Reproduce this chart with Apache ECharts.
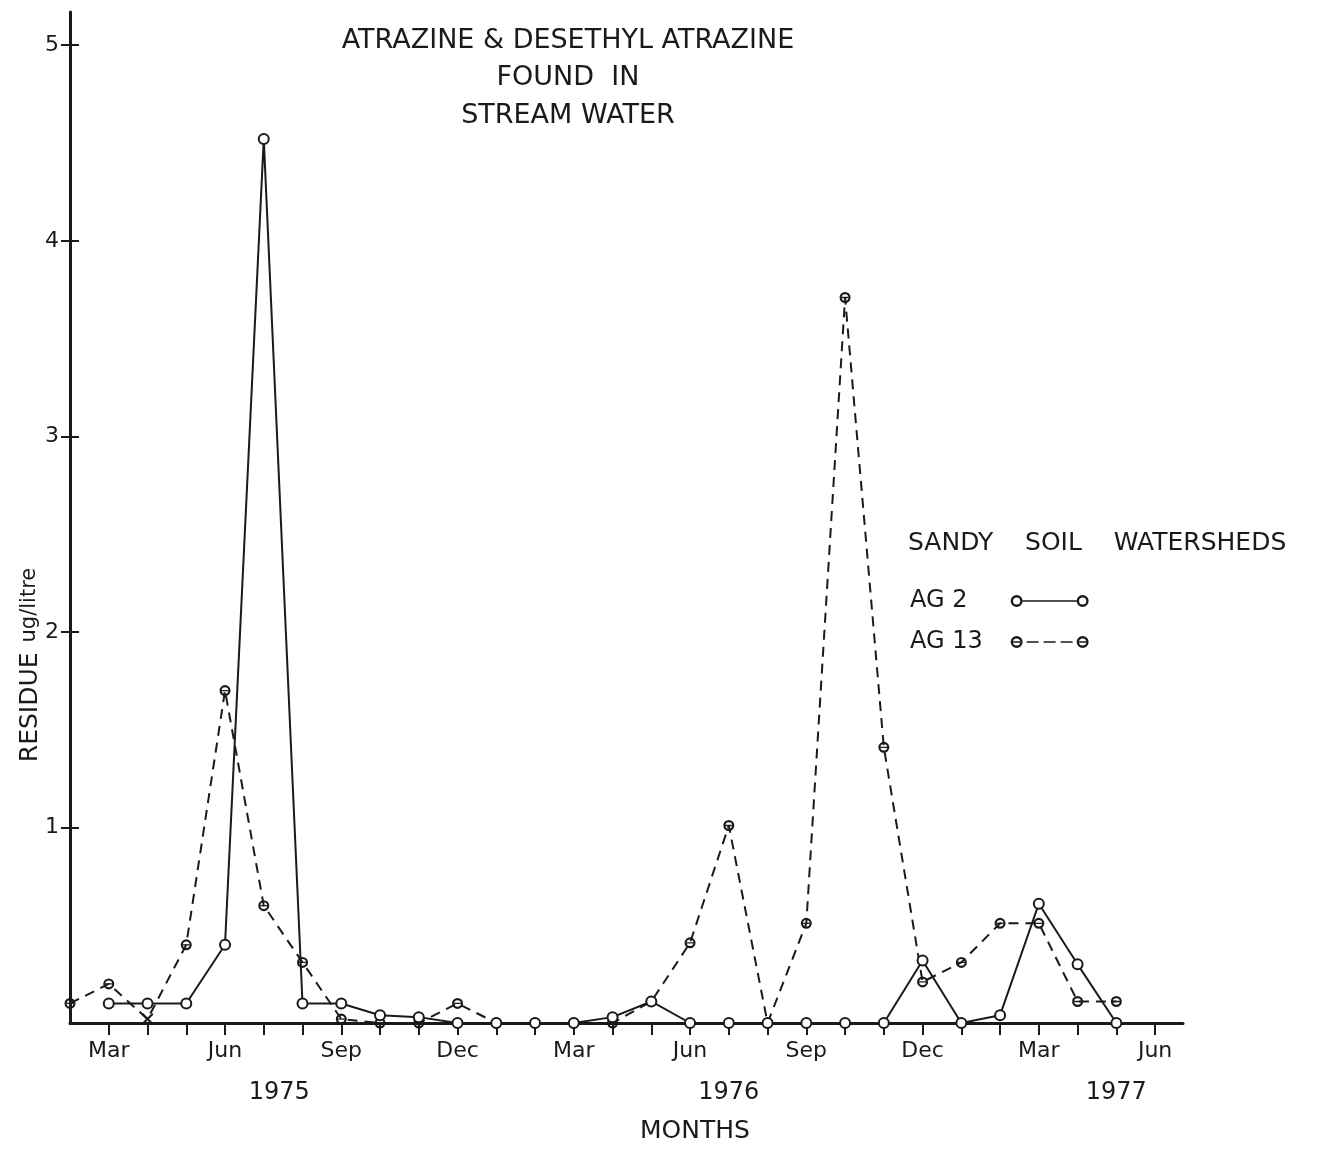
<!DOCTYPE html>
<html>
<head>
<meta charset="utf-8">
<title>Atrazine in stream water</title>
<script src="https://cdn.jsdelivr.net/npm/echarts@6/dist/echarts.min.js"></script>
<style>
html, body { margin:0; padding:0; background:#fff; }
#main { width:1331px; height:1149px; }
</style>
</head>
<body>
<div id="main"></div>
<script>
// month index 0 = Feb 1975 ... 28 = Jun 1977
var MONTHS = ['Feb','Mar','Apr','May','Jun','Jul','Aug','Sep','Oct','Nov','Dec',
	'Jan','Feb','Mar','Apr','May','Jun','Jul','Aug','Sep','Oct','Nov','Dec',
	'Jan','Feb','Mar','Apr','May','Jun'];
var LABEL_MONTHS = ['Mar','Jun','Sep','Dec'];

var YEARS = ['1975','1976','1977'];
var YEAR_POS = [5.4, 17, 27];

var Y_TICKS = [1, 2, 3, 4, 5];

// residue ug/litre, one value per month (null = no sample)
var AG2 = [null, 0.1, 0.1, 0.1, 0.4, 4.52, 0.1, 0.1, 0.04, 0.03, 0, 0, 0, 0, 0.03, 0.11,
	0, 0, 0, 0, 0, 0, 0.32, 0, 0.04, 0.61, 0.3, 0];
var AG13 = [0.1, 0.2, 0.02, 0.4, 1.7, 0.6, 0.31, 0.02, 0, 0, 0.1, 0, 0, 0, 0, 0.11,
	0.41, 1.01, 0, 0.51, 3.71, 1.41, 0.21, 0.31, 0.51, 0.51, 0.11, 0.11];
var AG13_CROSS = [2]; // this sample is drawn as an x

var FONT = 'DejaVu Sans';
var INK = '#1a1a1a';

/* little path helpers for the symbols */
var ring = function(cx, cy, R, r){
	return 'M' + (cx - R) + ',' + cy + 'A' + R + ',' + R + ',0,1,1,' + (cx + R) + ',' + cy +
		'A' + R + ',' + R + ',0,1,1,' + (cx - R) + ',' + cy + 'Z' +
		'M' + (cx - r) + ',' + cy + 'A' + r + ',' + r + ',0,1,0,' + (cx + r) + ',' + cy +
		'A' + r + ',' + r + ',0,1,0,' + (cx - r) + ',' + cy + 'Z';
}
var rect = function(x0, y0, x1, y1){
	return 'M' + x0 + ',' + y0 + 'L' + x1 + ',' + y0 + 'L' + x1 + ',' + y1 + 'L' + x0 + ',' + y1 + 'Z';
}

var barRing = function(cx){
	return ring(cx, 6, 6, 3.6) + rect(cx - 3.4, 5.3, cx + 3.4, 6.7);
}
var SYM_AG13 = 'path://' + barRing(6);
var SYM_CROSS = 'path://M0,1.5L1.5,0L6,4.5L10.5,0L12,1.5L7.5,6L12,10.5L10.5,12L6,7.5L1.5,12L0,10.5L4.5,6Z';
var ICON_AG2 = 'path://' + ring(6, 6, 6, 3.6) + rect(12, 5.2, 66, 6.8) + ring(72, 6, 6, 3.6);
var ICON_AG13 = 'path://' + barRing(6) + rect(16, 5.2, 28, 6.8) + rect(33, 5.2, 45, 6.8) +
	rect(50, 5.2, 62, 6.8) + barRing(72);

// ticks & labels
var tickIdx = [];
var labelIdx = [];
for(var i = 1; i < MONTHS.length; i++){
	tickIdx.push(i);
	if(LABEL_MONTHS.indexOf(MONTHS[i]) >= 0) labelIdx.push(i);
}

var ag2Data = [];
var ag13Data = [];
for(var i = 0; i < AG2.length; i++){
	if(AG2[i] != null) ag2Data.push([i, AG2[i]]);
}
for(var i = 0; i < AG13.length; i++){
	if(AG13_CROSS.indexOf(i) >= 0){
		ag13Data.push({value: [i, AG13[i]], symbol: SYM_CROSS, symbolSize: 12});
	}else{
		ag13Data.push([i, AG13[i]]);
	}
}

var X_MAX = 28.72;
var Y_MAX = 5.17;

var option = {
	animation: false,
	backgroundColor: '#fff',
	textStyle: {fontFamily: FONT, color: INK},
	title: [
		{text: 'SANDY    SOIL    WATERSHEDS', left: 908, top: 531, padding: 0,
			textStyle: {fontFamily: FONT, fontSize: 25, fontWeight: 'normal', color: INK}},
		{text: 'MONTHS', left: 640, top: 1119, padding: 0,
			textStyle: {fontFamily: FONT, fontSize: 25, fontWeight: 'normal', color: INK}}
	],
	graphic: [
		{type: 'text', x: 568, y: 22, z: 10,
			style: {text: 'ATRAZINE & DESETHYL ATRAZINE\nFOUND  IN\nSTREAM WATER',
				font: '27px "DejaVu Sans"', fill: INK, align: 'center', verticalAlign: 'top', lineHeight: 37.5}},
		{type: 'text', x: 30, y: 665, rotation: Math.PI / 2, z: 10,
			style: {text: '{a|RESIDUE}   {b|ug/litre}', align: 'center', verticalAlign: 'middle',
				rich: {
					a: {font: '25px "DejaVu Sans"', fill: INK},
					b: {font: '21px "DejaVu Sans"', fill: INK}
				}}}
	],
	legend: {
		orient: 'vertical', left: 910, top: 589, align: 'right', padding: 0,
		itemWidth: 78, itemHeight: 12, itemGap: 17,
		itemStyle: {borderWidth: 0},
		textStyle: {fontFamily: FONT, fontSize: 24, color: INK},
		formatter: function(name){
			// spaces keep both icons lined up (two spaces = one digit)
			return name == 'AG 2' ? 'AG 2     ' : name + '   ';
		},
		data: [{name: 'AG 2', icon: ICON_AG2}, {name: 'AG 13', icon: ICON_AG13}]
	},
	grid: {left: 70, right: 148, top: 12, bottom: 126},
	xAxis: [
		{type: 'value', min: 0, max: X_MAX, position: 'bottom',
			axisLine: {show: true, onZero: false, lineStyle: {color: INK, width: 3}},
			axisTick: {show: true, length: 12, customValues: tickIdx, lineStyle: {color: INK, width: 2}},
			axisLabel: {show: true, customValues: labelIdx, margin: 17,
				formatter: function(v){ return MONTHS[v]; },
				fontFamily: FONT, fontSize: 22, color: INK},
			splitLine: {show: false}},
		{type: 'value', min: 0, max: X_MAX, position: 'bottom',
			axisLine: {show: false}, axisTick: {show: false}, splitLine: {show: false},
			axisLabel: {show: true, customValues: YEAR_POS, margin: 58,
				formatter: function(v){ return YEARS[YEAR_POS.indexOf(v)]; },
				fontFamily: FONT, fontSize: 24, color: INK}}
	],
	yAxis: [
		{type: 'value', min: 0, max: Y_MAX, position: 'left',
			axisLine: {show: true, onZero: false, lineStyle: {color: INK, width: 3}},
			axisTick: {show: true, length: 9, customValues: Y_TICKS, lineStyle: {color: INK, width: 2}},
			axisLabel: {show: true, customValues: Y_TICKS, margin: 11,
				fontFamily: FONT, fontSize: 22, color: INK},
			splitLine: {show: false}},
		{type: 'value', min: 0, max: Y_MAX, position: 'left',
			axisLine: {show: false},
			axisTick: {show: true, inside: true, length: 9, customValues: Y_TICKS, lineStyle: {color: INK, width: 2}},
			axisLabel: {show: false}, splitLine: {show: false}}
	],
	series: [
		{name: 'AG 2', type: 'line', xAxisIndex: 0, yAxisIndex: 0, data: ag2Data, clip: false,
			symbol: 'emptyCircle', symbolSize: 10,
			lineStyle: {color: INK, width: 2},
			itemStyle: {color: INK, borderColor: INK, borderWidth: 2}, z: 3},
		{name: 'AG 13', type: 'line', xAxisIndex: 0, yAxisIndex: 0, data: ag13Data, clip: false,
			symbol: SYM_AG13, symbolSize: 11, symbolKeepAspect: true,
			lineStyle: {color: INK, width: 2, type: [10, 7]},
			itemStyle: {color: INK, borderWidth: 0}, z: 2}
	]
};

var chart = echarts.init(document.getElementById('main'));
chart.setOption(option);
</script>
</body>
</html>
